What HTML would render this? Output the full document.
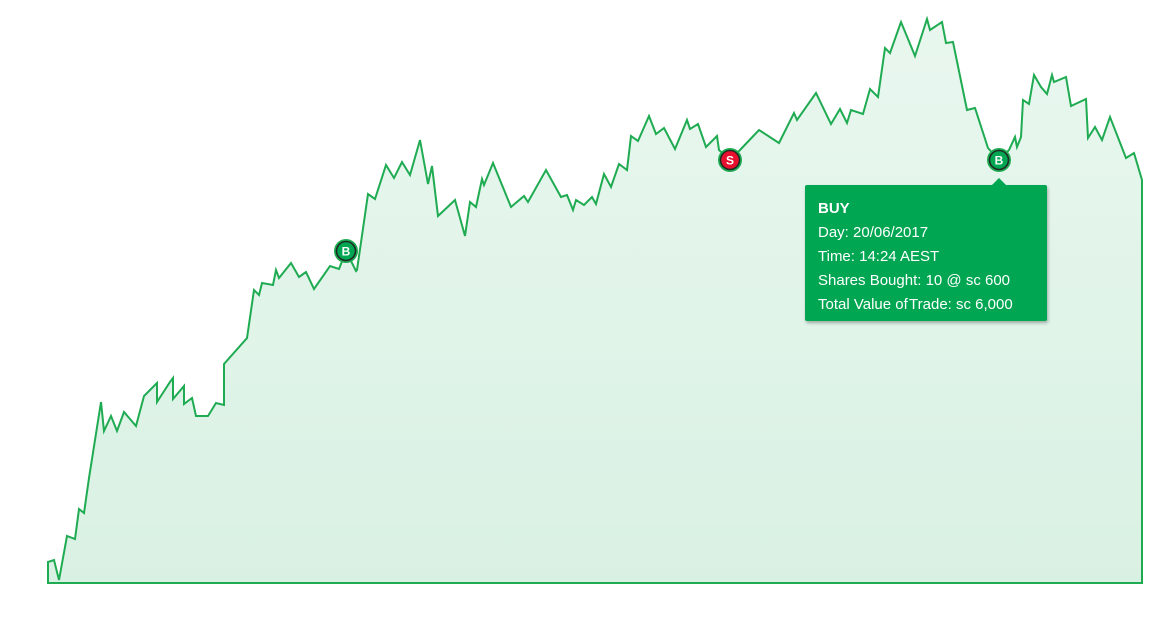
<!DOCTYPE html>
<html><head><meta charset="utf-8">
<style>
html,body{margin:0;padding:0;background:#fff;width:1150px;height:630px;overflow:hidden;font-family:"Liberation Sans",sans-serif}
#tip{position:absolute;left:805px;top:185px;width:242px;height:136px;background:#00a651;border-radius:2px;box-shadow:1px 2px 3px rgba(0,0,0,0.3);color:#fff;font-size:15px;box-sizing:border-box;padding:12px 0 0 13px;line-height:24px}
#tip b{font-weight:bold}
#caret{position:absolute;left:992px;top:178px;width:0;height:0;border-left:7px solid transparent;border-right:7px solid transparent;border-bottom:7px solid #00a651}
</style></head><body>
<svg id="chart" width="1150" height="630" style="position:absolute;left:0;top:0">
<defs><linearGradient id="g" x1="0" y1="0" x2="0" y2="1"><stop offset="0" stop-color="#e9f7ef"/><stop offset="1" stop-color="#d9f1e3"/></linearGradient></defs>
<g id="plot"></g>
</svg>
<div id="caret"></div>
<div id="tip">
<b>BUY</b><br>
<span>Day: 20/06/2017</span><br>
<span>Time: 14:24 AEST</span><br>
<span>Shares Bought: 10 @ sc 600</span><br>
<span>Total Value of&#8202;Trade: sc 6,000</span>
</div>
<script>
const times=[48,54,59,67,75,79,84,89,101,104,111,117,124,136,144,157,157,170,173,173,184,184,192,194,196,208,216,224,224,247,254,259,262,273,276,279,291,299,306,314,330,339,346,356,357,368,375,386,394,402,410,420,428,432,438,455,465,470,476,482,484,493,511,524,528,546,561,567,573,576,584,592,596,604,611,619,627,631,638,649,656,664,675,687,690,698,706,717,719,730,740,759,779,794,797,816,831,840,847,851,863,870,878,885,890,901,915,927,930,942,946,953,967,975,988,999,1009,1015,1017,1021,1023,1029,1034,1041,1047,1052,1054,1066,1071,1086,1088,1095,1102,1110,1126,1134,1142];
const values=[21,23,3,47,44,74,70,105,181,152,167,152,171,157,187,200,181,201,205,184,197,179,185,176,167,167,180,178,219,245,293,288,300,298,313,305,320,306,311,294,317,314,332,312,313,389,384,418,405,421,408,443,399,417,367,383,347,381,376,404,398,420,376,387,381,413,386,388,373,383,378,386,379,409,396,419,413,447,442,467,449,455,434,463,454,459,436,447,433,423,433,453,440,470,463,490,459,474,460,473,469,494,486,535,530,561,527,564,553,561,540,541,473,475,435,423,433,446,436,446,483,479,508,496,489,508,501,506,477,484,445,456,443,466,425,430,403];
const markerIdx=[42,89,115];
const markerType=["B","S","B"];
const x0=48,x1=1142,px0=48,px1=1142,baseY=583;
function xs(t){return px0+(t-x0)/(x1-x0)*(px1-px0);}
function ys(v){return baseY-v;}
const g=document.getElementById('plot');
const ns='http://www.w3.org/2000/svg';
let d='';
for(let i=0;i<times.length;i++){d+=(i?'L':'M')+xs(times[i]).toFixed(1)+','+ys(values[i]).toFixed(1);}
const area=document.createElementNS(ns,'path');
area.setAttribute('d',d+'L'+xs(times[times.length-1])+','+baseY+'L'+xs(times[0])+','+baseY+'Z');
area.setAttribute('fill','url(#g)');


g.appendChild(area);
const line=document.createElementNS(ns,'path');
line.setAttribute('d',d+'L'+xs(times[times.length-1])+','+baseY+'L'+xs(times[0])+','+baseY+'Z');
line.setAttribute('fill','none');line.setAttribute('stroke','#1fab52');line.setAttribute('stroke-width','2');line.setAttribute('stroke-linejoin','miter');


g.appendChild(line);
for(let k=0;k<markerIdx.length;k++){
  const i=markerIdx[k];const cx=xs(times[i]),cy=ys(values[i])-(markerType[k]==='B'?0:0);
  const grp=document.createElementNS(ns,'g');
  
  
  const c1=document.createElementNS(ns,'circle');c1.setAttribute('cx',cx);c1.setAttribute('cy',cy);c1.setAttribute('r',12);c1.setAttribute('fill','#1fab52');grp.appendChild(c1);
  const c2=document.createElementNS(ns,'circle');c2.setAttribute('cx',cx);c2.setAttribute('cy',cy);c2.setAttribute('r',9.5);c2.setAttribute('fill',markerType[k]==='B'?'#00a651':'#e8102e');c2.setAttribute('stroke','#1e2b25');c2.setAttribute('stroke-width','1.6');grp.appendChild(c2);
  const t=document.createElementNS(ns,'text');t.setAttribute('x',cx);t.setAttribute('y',cy+4.5);t.setAttribute('text-anchor','middle');t.setAttribute('fill','#fff');t.setAttribute('font-size','12');t.setAttribute('font-weight','bold');t.setAttribute('font-family','Liberation Sans, sans-serif');t.textContent=markerType[k];grp.appendChild(t);
  g.appendChild(grp);
}
</script>
</body></html>
